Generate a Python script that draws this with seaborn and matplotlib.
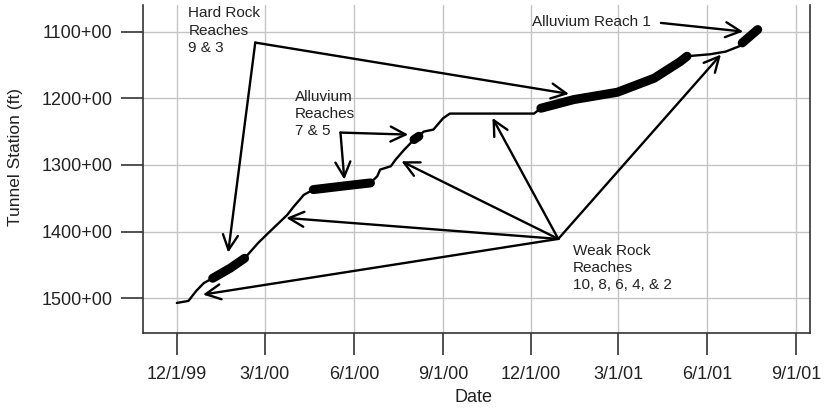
import matplotlib
matplotlib.use("Agg")
import matplotlib.pyplot as plt
import matplotlib.dates as mdates
from matplotlib.ticker import FuncFormatter, FixedLocator
import pandas as pd
import seaborn as sns

# progress of the tunnel boring
dates = [
    "1999-12-01", "1999-12-13", "1999-12-21", "1999-12-29", "2000-01-07",
    "2000-01-25", "2000-02-09", "2000-02-23", "2000-03-06", "2000-03-24",
    "2000-03-31", "2000-04-06", "2000-04-10", "2000-04-20", "2000-05-25",
    "2000-06-18", "2000-06-25", "2000-06-28", "2000-07-09", "2000-07-14",
    "2000-07-23", "2000-07-31", "2000-08-05", "2000-08-12", "2000-08-22",
    "2000-09-01", "2000-09-08", "2000-12-04", "2000-12-11", "2001-01-14",
    "2001-02-28", "2001-04-07", "2001-05-04", "2001-05-11", "2001-06-04",
    "2001-06-20", "2001-07-04", "2001-07-07", "2001-07-23",
]
stations = [
    1507, 1504, 1489, 1477, 1470,
    1455, 1440, 1417, 1400, 1375,
    1362, 1352, 1345, 1337, 1331,
    1327, 1317, 1307, 1302, 1292,
    1277, 1265, 1259, 1250, 1247,
    1230, 1223, 1223, 1215, 1202,
    1191, 1170, 1145, 1137, 1134,
    1130, 1122, 1117, 1097,
]

# reaches drawn with the heavy line
reach_ids = ["HR-A"] * 3 + ["AL-A"] * 3 + ["AL-B"] * 2 + ["HR-B"] * 6 + ["AL-1"] * 2
reach_dates = [
    "2000-01-07", "2000-01-25", "2000-02-09",
    "2000-04-20", "2000-05-25", "2000-06-18",
    "2000-08-02", "2000-08-07",
    "2000-12-11", "2001-01-14", "2001-02-28", "2001-04-07", "2001-05-04", "2001-05-11",
    "2001-07-07", "2001-07-23",
]
reach_stations = [
    1470, 1455, 1440,
    1337, 1331, 1327,
    1262, 1257,
    1215, 1202, 1191, 1170, 1145, 1137,
    1117, 1097,
]

x_ticks = ["1999-12-01", "2000-03-01", "2000-06-01", "2000-09-01",
           "2000-12-01", "2001-03-01", "2001-06-01", "2001-09-01"]
y_ticks = [1100, 1200, 1300, 1400, 1500]

df = pd.DataFrame({"date": pd.to_datetime(dates), "station": stations})
reaches = pd.DataFrame({"reach": reach_ids, "date": pd.to_datetime(reach_dates),
                        "station": reach_stations})

sns.set_theme(style="white")
plt.rcParams["font.family"] = ["Liberation Sans", "DejaVu Sans"]

fig = plt.figure(figsize=(8.24, 4.09), dpi=100)
ax = fig.add_axes([0.1735, 0.186, 0.8095, 0.802])

sns.lineplot(data=df, x="date", y="station", sort=False, estimator=None,
             color="black", linewidth=1.7, ax=ax)
sns.lineplot(data=reaches, x="date", y="station", units="reach", sort=False,
             estimator=None, color="black", linewidth=6.5, ax=ax,
             solid_capstyle="round")

ax.set_xlim(pd.Timestamp("1999-10-27"), pd.Timestamp("2001-09-15"))
ax.set_ylim(1552, 1060)

ax.xaxis.set_major_locator(FixedLocator(mdates.date2num(pd.to_datetime(x_ticks))))
ax.xaxis.set_major_formatter(FuncFormatter(
    lambda v, p: (lambda d: f"{d.month}/{d.day}/{d:%y}")(mdates.num2date(v))))
ax.set_yticks(y_ticks)
ax.yaxis.set_major_formatter(FuncFormatter(lambda v, p: f"{int(v)}+00"))

ax.grid(True, color="#c4c4c4", linewidth=1)
ax.tick_params(axis="both", direction="out", length=16, width=1.2, color="#333333",
               labelsize=13, labelcolor="#222222", bottom=True, left=True)
ax.tick_params(axis="x", pad=8)
ax.tick_params(axis="y", pad=6)
ax.spines["top"].set_visible(False)
for s in ["left", "bottom", "right"]:
    ax.spines[s].set_color("#333333")
    ax.spines[s].set_linewidth(1.2)

ax.set_xlabel("Date", fontsize=13, color="#222222")
ax.set_ylabel("Tunnel Station (ft)", fontsize=12.5, color="#222222")
ax.xaxis.set_label_coords(0.495, -0.17)
ax.yaxis.set_label_coords(-0.18, 0.537)

arrow = dict(arrowstyle="->,head_length=0.9,head_width=0.45", color="black",
             lw=1.7, mutation_scale=12, shrinkA=0, shrinkB=0)
T = pd.Timestamp

# labels
txt = dict(fontsize=11, color="#222222", linespacing=1.3)
ax.text(T("1999-12-13"), 1062, "Hard Rock\nReaches\n9 & 3", va="top", ha="left", **txt)
ax.text(T("2000-04-01"), 1187, "Alluvium\nReaches\n7 & 5", va="top", ha="left", **txt)
ax.text(T("2000-12-02"), 1085, "Alluvium Reach 1", va="center", ha="left", **txt)
ax.text(T("2001-01-13"), 1418, "Weak Rock\nReaches\n10, 8, 6, 4, & 2", va="top", ha="left", **txt)

# arrows: (start, tip)
arrows = [
    ((T("2000-02-20"), 1116.5), (T("2000-01-23"), 1431.5)),
    ((T("2000-02-20"), 1116.5), (T("2001-01-09"), 1193.5)),
    ((T("2000-05-18"), 1251.5), (T("2000-07-27"), 1254.5)),
    ((T("2000-05-18"), 1251.5), (T("2000-05-22"), 1322)),
    ((T("2001-04-14"), 1087), (T("2001-07-08"), 1100)),
    ((T("2000-12-29"), 1411), (T("1999-12-28"), 1494.5)),
    ((T("2000-12-29"), 1411), (T("2000-03-23"), 1379.5)),
    ((T("2000-12-29"), 1411), (T("2000-07-20"), 1294.5)),
    ((T("2000-12-29"), 1411), (T("2000-10-22"), 1229.5)),
    ((T("2000-12-29"), 1411), (T("2001-06-15"), 1134.5)),
]
for start, tip in arrows:
    ax.annotate("", xy=tip, xytext=start, arrowprops=arrow)

fig.savefig("out.png", dpi=100)
plt.close(fig)
